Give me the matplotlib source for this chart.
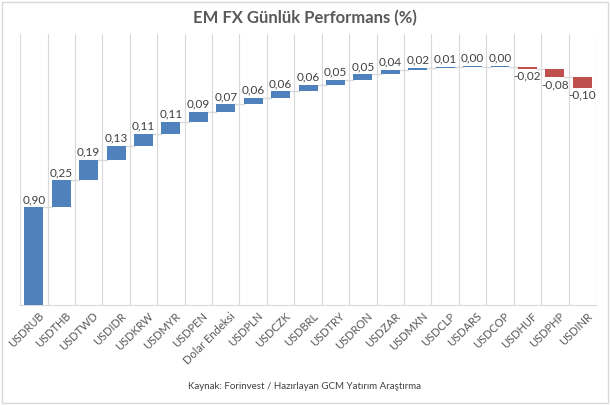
import numpy as np
import matplotlib
matplotlib.use('Agg')
import matplotlib.pyplot as plt
import matplotlib.transforms as mtransforms
from matplotlib.patches import Rectangle

plt.rcParams['font.family'] = ['Lato', 'DejaVu Sans']

kurlar = ['USDRUB', 'USDTHB', 'USDTWD', 'USDIDR', 'USDKRW', 'USDMYR', 'USDPEN',
          'Dolar Endeksi', 'USDPLN', 'USDCZK', 'USDBRL', 'USDTRY', 'USDRON',
          'USDZAR', 'USDMXN', 'USDCLP', 'USDARS', 'USDCOP', 'USDHUF', 'USDPHP',
          'USDINR']
degisim = [0.90, 0.25, 0.19, 0.13, 0.11, 0.11, 0.09, 0.07, 0.06, 0.06, 0.06,
           0.05, 0.05, 0.04, 0.02, 0.01, 0.00, 0.00, -0.02, -0.08, -0.10]

mavi = '#4F81BD'
kirmizi = '#C0504D'

fig = plt.figure(figsize=(6.1, 4.05), dpi=100)
fig.patches.append(Rectangle((0.004, 0.006), 0.992, 0.988, transform=fig.transFigure,
                             fill=False, edgecolor='#D9D9D9', lw=1))
ax = fig.add_axes([0.033, 0.247, 0.944, 0.669])

x = np.arange(len(kurlar))
deg = np.array(degisim)
son = np.cumsum(deg)
bas = son - deg
w = 0.69

for i in range(len(x)):
    renk = mavi if deg[i] >= 0 else kirmizi
    h = deg[i] if deg[i] != 0 else 0.006
    ax.bar(x[i], h, bottom=bas[i], width=w, color=renk, zorder=3)
    if deg[i] >= 0:
        ax.text(x[i], bas[i] + h + 0.02, ('%.2f' % deg[i]).replace('.', ','),
                ha='center', va='bottom', fontsize=8.5, color='#404040')
    else:
        ax.text(x[i], son[i] - 0.015, ('%.2f' % deg[i]).replace('.', ','),
                ha='center', va='top', fontsize=8.5, color='#404040')
    if i < len(x) - 1:
        ax.plot([x[i] + w / 2, x[i + 1] - w / 2], [son[i], son[i]],
                color='#D9D9D9', lw=1, zorder=2)

ax.set_xlim(-0.5, len(x) - 0.5)
ax.set_ylim(0, 2.5)
for b in np.arange(-0.5, len(x), 1):
    ax.axvline(b, color='#D9D9D9', lw=0.8, zorder=1)
ax.set_yticks([])
ax.set_xticks(x)
ax.set_xticklabels(kurlar, rotation=45, ha='right', rotation_mode='anchor',
                   fontsize=8, color='#595959')
ax.tick_params(axis='x', length=0, pad=4)
kaydir = mtransforms.ScaledTranslation(4 / 100, 0, fig.dpi_scale_trans)
for lbl in ax.get_xticklabels():
    lbl.set_transform(lbl.get_transform() + kaydir)
for s in ['top', 'left', 'right']:
    ax.spines[s].set_visible(False)
ax.spines['bottom'].set_color('#D9D9D9')

fig.text(0.5, 0.955, 'EM FX Günlük Performans (%)', ha='center', va='center',
         fontsize=12, fontweight='bold', color='#595959')
fig.text(0.5, 0.045, 'Kaynak: Forinvest / Hazırlayan GCM Yatırım Araştırma',
         ha='center', va='center', fontsize=7, color='#404040')

fig.savefig('out.png', dpi=100)
